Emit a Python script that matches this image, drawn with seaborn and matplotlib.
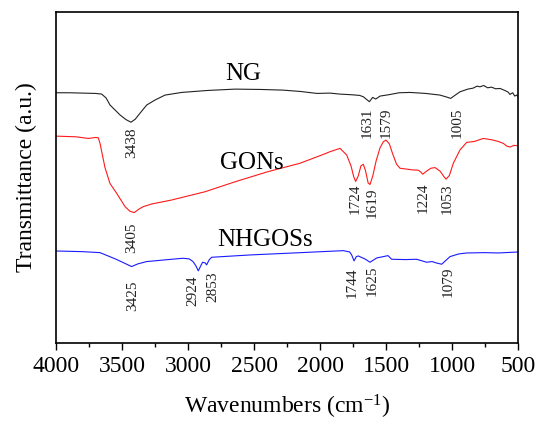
import matplotlib
matplotlib.use('Agg')
import matplotlib.pyplot as plt
import seaborn as sns
import pandas as pd
from matplotlib.ticker import MultipleLocator

# ---------------- data ----------------
ng_wn = [4000, 3900, 3800, 3700, 3654, 3620, 3591, 3550, 3515, 3470, 3432, 3400, 3364, 3313,
         3250, 3174, 3048, 2850, 2644, 2450, 2280, 2150, 2023, 1924, 1850, 1760, 1700, 1672,
         1626, 1601, 1578, 1545, 1480, 1400, 1318, 1200, 1091, 1040, 1010, 975, 939, 880,
         840, 810, 788, 760, 730, 700, 670, 636, 600, 575, 561, 540, 525, 510, 500]
ng_t = [75.6, 75.6, 75.5, 75.4, 75.2, 74.0, 71.9, 70.3, 68.9, 67.5, 66.7, 67.6, 69.4, 71.9,
        73.4, 74.9, 75.7, 76.3, 76.7, 76.6, 76.4, 76.0, 75.4, 75.5, 75.2, 75.0, 74.8, 74.4,
        72.9, 74.2, 73.7, 74.6, 75.0, 75.6, 75.7, 75.4, 74.9, 74.3, 73.9, 74.9, 75.9, 76.7,
        77.0, 77.6, 77.4, 77.8, 77.1, 77.3, 76.8, 76.9, 76.3, 75.8, 75.1, 75.6, 74.6, 74.9, 74.4]

gon_wn = [4000, 3850, 3755, 3700, 3680, 3667, 3629, 3591, 3540, 3477, 3440, 3407, 3370, 3338,
          3275, 3124, 2871, 2644, 2400, 2152, 1980, 1924, 1848, 1798, 1765, 1745, 1730, 1710,
          1690, 1672, 1655, 1635, 1621, 1600, 1575, 1545, 1520, 1500, 1475, 1450, 1420, 1394,
          1300, 1255, 1235, 1222, 1190, 1160, 1129, 1090, 1060, 1045, 1020, 990, 940, 889,
          830, 763, 700, 650, 611, 585, 561, 530, 500]
gon_t = [62.5, 62.3, 61.8, 62.1, 62.0, 60.4, 53.0, 48.2, 45.2, 41.2, 39.8, 39.4, 40.5, 41.2,
         42.0, 43.2, 45.7, 48.7, 51.7, 54.3, 56.9, 57.8, 58.8, 56.8, 53.5, 50.3, 48.8, 50.5,
         53.5, 54.0, 52.0, 48.3, 47.9, 50.5, 55.0, 59.0, 60.8, 61.3, 60.2, 57.2, 54.0, 52.8,
         52.3, 52.2, 51.6, 51.0, 52.0, 52.8, 53.0, 51.9, 50.2, 49.5, 50.6, 54.3, 58.3, 60.6,
         60.9, 61.8, 61.4, 60.9, 60.3, 59.5, 59.2, 59.7, 59.6]

nh_wn = [4000, 3800, 3667, 3550, 3427, 3380, 3313, 3150, 3038, 2990, 2962, 2940, 2922, 2900,
         2889, 2870, 2859, 2840, 2821, 2530, 2200, 1823, 1775, 1760, 1742, 1725, 1710, 1660,
         1621, 1570, 1520, 1485, 1457, 1350, 1268, 1192, 1150, 1120, 1078, 1015, 950, 889,
         750, 650, 600, 500]
nh_t = [27.8, 27.6, 27.3, 25.4, 23.1, 23.9, 24.6, 25.2, 25.6, 25.4, 24.6, 23.3, 21.8, 23.6,
        24.4, 24.2, 23.6, 25.1, 25.9, 26.6, 27.2, 27.9, 27.5, 26.6, 24.8, 26.1, 26.3, 25.4,
        24.4, 25.7, 26.1, 26.4, 25.3, 25.2, 25.3, 24.4, 24.6, 24.2, 23.8, 26.1, 26.9, 27.2,
        27.3, 27.2, 27.3, 27.5]

series_names = ['NG', 'GONs', 'NHGOSs']
series_colors = ['#222222', '#ff1a1a', '#1a1aff']

peak_labels = ['3438', '1631', '1579', '1005',
               '3405', '1724', '1619', '1224', '1053',
               '3425', '2924', '2853', '1744', '1625', '1079']
peak_x = [3430, 1646, 1495, 964,
          3427, 1735, 1608, 1217, 1040,
          3417, 2960, 2811, 1760, 1608, 1028]
peak_y = [65.0, 71.0, 71.0, 71.0,
          36.3, 48.3, 47.1, 48.6, 48.3,
          19.0, 20.5, 21.5, 22.7, 23.3, 23.0]

name_x = [2583, 2515, 2417]
name_y = [81.3, 54.4, 31.1]

xticks = [4000, 3500, 3000, 2500, 2000, 1500, 1000, 500]

# ---------------- plot ----------------
sns.set_theme(style='white')
plt.rcParams['font.family'] = ['Liberation Serif', 'DejaVu Serif']
plt.rcParams['mathtext.fontset'] = 'custom'
plt.rcParams['mathtext.rm'] = 'Liberation Serif'
plt.rcParams['mathtext.it'] = 'Liberation Serif:italic'

fig = plt.figure(figsize=(5.4, 4.21), dpi=100)
ax = fig.add_axes([56 / 540, 1 - 343 / 421, 462 / 540, 331 / 421])

frames = [
    pd.DataFrame({'wn': ng_wn, 't': ng_t}),
    pd.DataFrame({'wn': gon_wn, 't': gon_t}),
    pd.DataFrame({'wn': nh_wn, 't': nh_t}),
]
for df, c in zip(frames, series_colors):
    sns.lineplot(data=df, x='wn', y='t', ax=ax, color=c, lw=0.8,
                 sort=False, estimator=None)

for name, x, y in zip(series_names, name_x, name_y):
    ax.text(x, y, name, fontsize=18, ha='center', va='center', color='black')

for lab, x, y in zip(peak_labels, peak_x, peak_y):
    ax.text(x, y, lab, fontsize=11, rotation=90, ha='center', va='top', color='#222222')

ax.set_xlim(4000, 500)
ax.set_ylim(0, 100)
ax.set_xticks(xticks)
ax.set_xticklabels([str(t) for t in xticks])
ax.xaxis.set_minor_locator(MultipleLocator(250))
ax.set_yticks([])
ax.tick_params(axis='x', which='both', bottom=True, top=False, direction='out',
               color='black', width=1.0)
ax.tick_params(axis='x', which='major', length=5, labelsize=17, pad=4, labelcolor='black')
ax.tick_params(axis='x', which='minor', length=3)
for s in ax.spines.values():
    s.set_color('black')
    s.set_linewidth(1.2)

ax.set_xlabel('Wavenumbers (cm$^{-1}$)', fontsize=17, color='black', labelpad=12)
ax.set_ylabel('Transmittance (a.u.)', fontsize=17, color='black', labelpad=14)

fig.savefig('out.png', dpi=100)
